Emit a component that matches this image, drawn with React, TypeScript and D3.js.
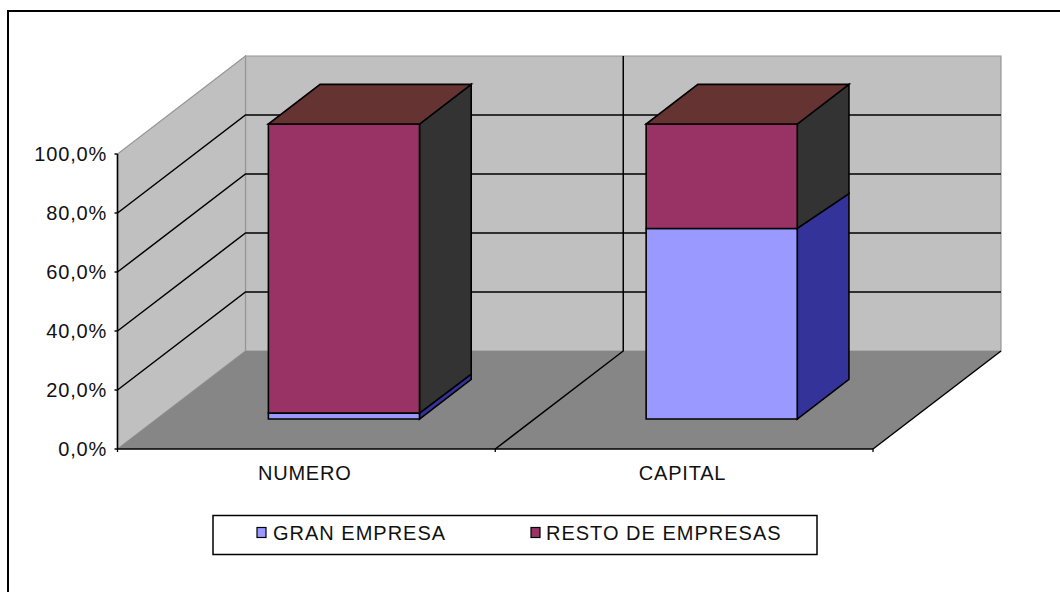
import React from "react";
import * as d3 from "d3";

const categories = ["NUMERO", "CAPITAL"];
const seriesNames = ["GRAN EMPRESA", "RESTO DE EMPRESAS"];
const granEmpresa = [0.02, 0.646];
const restoEmpresas = [0.98, 0.354];
// the reference draws the split on the far edge of the side face slightly lower
const granEmpresaFarEdge = [0.018, 0.63];
const yTicks = [0, 0.2, 0.4, 0.6, 0.8, 1];
const frontColors = ["#9999FF", "#993366"];
const sideColors = ["#333399", "#333333"];
const topColor = "#663333";

const W = 1060, H = 592;
const x0 = 117.5, x1 = 873, y0 = 449, y100 = 154;
const depthX = 128, depthY = 98;
const barNear = 0.306, barFar = 0.71;
const barShift = 1.6;
const font = "'Liberation Sans', Arial, sans-serif";

const y = d3.scaleLinear().domain([0, 1]).range([y0, y100]);
const x = d3.scaleBand<string>().domain(categories).range([x0 - barShift, x1 - barShift]).paddingInner(0.6).paddingOuter(0.3);
const edges = [x0, (x0 + x1) / 2, x1];

const P = (px: number, v: number, t: number): [number, number] => [px + depthX * t, y(v) - depthY * t];
const poly = (pts: [number, number][]) => (d3.line()(pts) as string) + "Z";
const fmt = (v: number) => d3.format(".1f")(v * 100).replace(".", ",") + "%";

export default function App() {
  const series = [granEmpresa, restoEmpresas];
  return (
    <svg width={W} height={H} viewBox={`0 0 ${W} ${H}`} style={{ position: "fixed", left: 0, top: 0, background: "#fff" }}>
      {/* chart frame */}
      <path d={`M8 ${H}V11H${W}`} fill="none" stroke="#000" strokeWidth={2} />

      {/* walls and floor */}
      <path d={poly([P(x0, 0, 1), P(x1, 0, 1), P(x1, 1, 1), P(x0, 1, 1)])} fill="#C0C0C0" stroke="#969696" strokeWidth={1.2} />
      <path d={poly([P(x0, 0, 0), P(x0, 1, 0), P(x0, 1, 1), P(x0, 0, 1)])} fill="#C0C0C0" stroke="#969696" strokeWidth={1.2} />
      <path d={poly([P(x0, 0, 0), P(x1, 0, 0), P(x1, 0, 1), P(x0, 0, 1)])} fill="#868686" />

      {/* gridlines */}
      {yTicks.slice(1, -1).map((t) => (
        <path key={t} d={d3.line()([P(x0, t, 0), P(x0, t, 1), P(x1, t, 1)]) as string} fill="none" stroke="#000" strokeWidth={1.5} />
      ))}
      {edges.slice(1).map((e) => (
        <path key={e}
          d={e === x1
            ? (d3.line()([P(e, 0, 0), P(e, 0, 1)]) as string)
            : (d3.line()([P(e, 0, 0), P(e, 0, 1), P(e, 1, 1)]) as string)}
          fill="none" stroke="#000" strokeWidth={1.5} />
      ))}

      {/* bars */}
      {categories.map((c, i) => {
        const l = x(c)!, r = l + x.bandwidth();
        let base = 0;
        return (
          <g key={c} stroke="#000" strokeWidth={1.6} strokeLinejoin="miter">
            {series.map((s, k) => {
              const a = base, b = base + s[i];
              base = b;
              const aFar = k === 0 ? 0 : granEmpresaFarEdge[i];
              const bFar = k === 0 ? granEmpresaFarEdge[i] : 1;
              return (
                <g key={k}>
                  <path d={poly([P(r, a, barNear), P(r, aFar, barFar), P(r, bFar, barFar), P(r, b, barNear)])} fill={sideColors[k]} />
                  <path d={poly([P(l, a, barNear), P(r, a, barNear), P(r, b, barNear), P(l, b, barNear)])} fill={frontColors[k]} />
                </g>
              );
            })}
            <path d={poly([P(l, 1, barNear), P(r, 1, barNear), P(r, 1, barFar), P(l, 1, barFar)])} fill={topColor} />
          </g>
        );
      })}

      {/* axes */}
      <path d={`M${x0} ${y100}V${y0}H${x1}`} fill="none" stroke="#000" strokeWidth={1.6} />
      {yTicks.map((t) => (
        <line key={t} x1={x0 - 3} x2={x0} y1={y(t)} y2={y(t)} stroke="#000" strokeWidth={1.4} />
      ))}
      {edges.map((e) => (
        <line key={e} x1={e} x2={e} y1={y0} y2={y0 + 3} stroke="#000" strokeWidth={1.3} />
      ))}

      {/* labels */}
      <g fontFamily={font} fontSize={20} fill="#111">
        {yTicks.map((t) => (
          <text key={t} x={107} y={y(t) + 7} textAnchor="end" letterSpacing={0.8}>{fmt(t)}</text>
        ))}
        {categories.map((c) => (
          <text key={c} x={x(c)! + x.bandwidth() / 2} y={480} textAnchor="middle" letterSpacing={0.8}>{c}</text>
        ))}
      </g>

      {/* legend */}
      <rect x={213} y={515.5} width={604} height={39} fill="#fff" stroke="#000" strokeWidth={1.5} />
      {seriesNames.map((n, k) => {
        const sx = k === 0 ? 257 : 531;
        return (
          <g key={n}>
            <rect x={sx} y={527.5} width={9} height={10} fill={frontColors[k]} stroke="#000" strokeWidth={1.2} />
            <text x={sx + (k === 0 ? 16 : 15)} y={540} fontFamily={font} fontSize={20} fill="#111" letterSpacing={1.0}>{n}</text>
          </g>
        );
      })}
    </svg>
  );
}
